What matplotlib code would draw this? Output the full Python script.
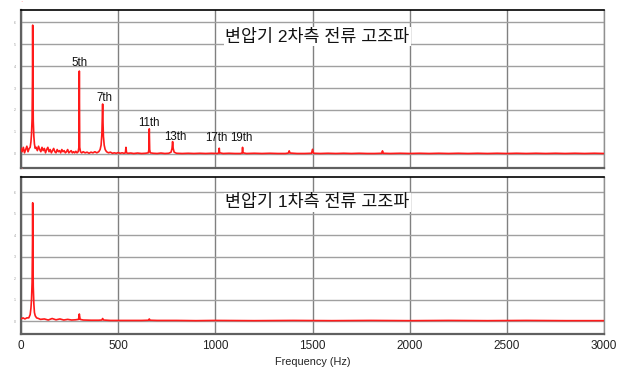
import numpy as np
import matplotlib.pyplot as plt

plt.rcParams['font.family'] = ['Liberation Sans', 'Noto Sans CJK KR', 'DejaVu Sans']

# secondary side current spectrum (Hz, amplitude)
sec_freq = [0, 6, 12, 18, 24, 30, 36, 42, 47, 51, 54, 57, 59, 60, 61, 63, 66, 69, 73,
            78, 84, 90, 96, 102, 108, 114, 120, 126, 132, 138, 144, 150, 156, 162, 168,
            174, 180, 186, 192, 198, 204, 210, 216, 222, 228, 234, 240, 246, 252, 258,
            264, 270, 276, 282, 288, 294, 298, 300, 302, 306, 312, 320, 330, 340, 350,
            360, 370, 380, 390, 400, 407, 412, 416, 419, 420, 421, 424, 428, 433, 440,
            450, 460, 470, 480, 490, 500, 510, 520, 530, 537, 540, 543, 550, 565, 580,
            600, 620, 640, 655, 658, 660, 662, 665, 680, 700, 720, 740, 760, 772, 777,
            780, 783, 788, 800, 830, 860, 890, 920, 950, 980, 1010, 1018, 1020, 1022,
            1040, 1070, 1100, 1130, 1138, 1140, 1142, 1160, 1200, 1240, 1280, 1320,
            1360, 1376, 1380, 1384, 1420, 1460, 1495, 1500, 1505, 1540, 1580, 1620,
            1660, 1700, 1740, 1780, 1820, 1856, 1860, 1864, 1900, 1950, 2000, 2050,
            2100, 2150, 2200, 2250, 2300, 2350, 2400, 2450, 2500, 2550, 2600, 2650,
            2700, 2750, 2800, 2850, 2900, 2950, 3000]
sec_amp = [0.25, 0.1, 0.3, 0.05, 0.2, 0.35, 0.1, 0.25, 0.3, 0.55, 0.9, 1.6, 3.5, 5.86,
           3.4, 1.5, 0.8, 0.45, 0.25, 0.3, 0.15, 0.35, 0.2, 0.1, 0.3, 0.15, 0.25, 0.05,
           0.2, 0.3, 0.1, 0.2, 0.05, 0.15, 0.25, 0.1, 0.05, 0.2, 0.1, 0.15, 0.05, 0.2,
           0.1, 0.15, 0.05, 0.1, 0.2, 0.05, 0.1, 0.15, 0.05, 0.1, 0.05, 0.12, 0.05,
           0.1, 0.3, 3.77, 0.3, 0.1, 0.05, 0.1, 0.05, 0.08, 0.03, 0.08, 0.05, 0.1,
           0.05, 0.1, 0.2, 0.4, 0.9, 1.8, 2.27, 1.7, 0.8, 0.4, 0.2, 0.1, 0.05, 0.08,
           0.03, 0.05, 0.03, 0.06, 0.03, 0.05, 0.03, 0.05, 0.3, 0.05, 0.03, 0.04, 0.02,
           0.04, 0.02, 0.03, 0.05, 0.2, 1.14, 0.2, 0.05, 0.03, 0.02, 0.04, 0.02, 0.03,
           0.08, 0.25, 0.56, 0.25, 0.08, 0.03, 0.02, 0.03, 0.02, 0.03, 0.02, 0.03,
           0.02, 0.05, 0.26, 0.05, 0.02, 0.03, 0.02, 0.02, 0.05, 0.3, 0.05, 0.02, 0.03,
           0.02, 0.03, 0.02, 0.02, 0.04, 0.14, 0.04, 0.02, 0.02, 0.03, 0.21, 0.03, 0.02,
           0.03, 0.02, 0.03, 0.02, 0.03, 0.02, 0.02, 0.03, 0.14, 0.03, 0.02, 0.03, 0.02,
           0.03, 0.02, 0.03, 0.02, 0.03, 0.02, 0.03, 0.02, 0.03, 0.02, 0.03, 0.02, 0.03,
           0.02, 0.03, 0.02, 0.03, 0.02, 0.03, 0.02]

# primary side current spectrum (Hz, amplitude)
pri_freq = [0, 10, 20, 30, 40, 47, 51, 54, 57, 59, 60, 61, 63, 66, 69, 73, 80, 90, 100,
            120, 140, 160, 180, 200, 220, 240, 260, 280, 296, 300, 304, 320, 360, 400,
            416, 420, 424, 460, 500, 560, 620, 656, 660, 664, 700, 800, 900, 1000,
            1200, 1400, 1600, 1800, 2000, 2200, 2400, 2600, 2800, 3000]
pri_amp = [0.1, 0.15, 0.1, 0.15, 0.15, 0.3, 0.6, 1.0, 1.8, 3.6, 5.5, 3.4, 1.6, 0.8,
           0.4, 0.25, 0.15, 0.12, 0.08, 0.1, 0.05, 0.12, 0.06, 0.1, 0.05, 0.08, 0.05,
           0.06, 0.08, 0.33, 0.08, 0.05, 0.04, 0.04, 0.05, 0.12, 0.05, 0.03, 0.03, 0.03,
           0.03, 0.04, 0.1, 0.04, 0.03, 0.03, 0.02, 0.03, 0.02, 0.03, 0.02, 0.03, 0.02,
           0.03, 0.02, 0.03, 0.02, 0.02]

harm_labels = ['5th', '7th', '11th', '13th', '17th', '19th']
harm_x = [303, 427, 659, 792, 1007, 1136]
harm_y = [4.14, 2.55, 1.41, 0.79, 0.71, 0.71]

titles = ['변압기 2차측 전류 고조파', '변압기 1차측 전류 고조파']

fig = plt.figure(figsize=(6.22, 3.68), dpi=100)
ax1 = fig.add_axes([0.0338, 0.5435, 0.9373, 0.4293])
ax2 = fig.add_axes([0.0338, 0.0924, 0.9373, 0.4266])

for ax, f, a, title, ylim, ty in [(ax1, sec_freq, sec_amp, titles[0], (-0.64, 6.55), 0.83),
                                  (ax2, pri_freq, pri_amp, titles[1], (-0.6, 6.7), 0.84)]:
    ax.plot(f, a, color='#ff1a1a', lw=1.2, zorder=3)
    ax.set_xlim(0, 3000)
    ax.set_ylim(*ylim)
    ax.set_xticks(np.arange(0, 3001, 500))
    ax.set_yticks(np.arange(0, 7, 1))
    ax.set_yticklabels([str(v) for v in range(7)], fontsize=2.5, color='#999999')
    ax.grid(axis='x', color='#808080', lw=1.0)
    ax.grid(axis='y', color='#a0a0a0', lw=1.0)
    ax.tick_params(axis='y', length=0, pad=4)
    ax.tick_params(axis='x', length=0, labelsize=8.5, colors='#222222', pad=4)
    for side in ['left', 'bottom']:
        ax.spines[side].set_color('#606060')
        ax.spines[side].set_linewidth(1.6)
    ax.spines['top'].set_color('#000000')
    ax.spines['top'].set_linewidth(1.2)
    ax.spines['right'].set_color('#909090')
    ax.spines['right'].set_linewidth(1.0)
    ax.text(0.508, ty, title, transform=ax.transAxes,
            ha='center', va='center', fontsize=12.5, color='#111111',
            bbox=dict(facecolor='white', edgecolor='none', pad=1))
    ax.text(0.0, 1.025, '·', transform=ax.transAxes, color='#ff8080',
            fontsize=5, ha='center', va='bottom')

ax1.tick_params(axis='x', labelbottom=False)

for lab, x, y in zip(harm_labels, harm_x, harm_y):
    ax1.text(x, y, lab, ha='center', va='center', fontsize=8.3, color='#111111')

ax2.set_xlabel('Frequency (Hz)', fontsize=7.8, color='#222222', labelpad=4)

fig.savefig('out.png', dpi=100)
